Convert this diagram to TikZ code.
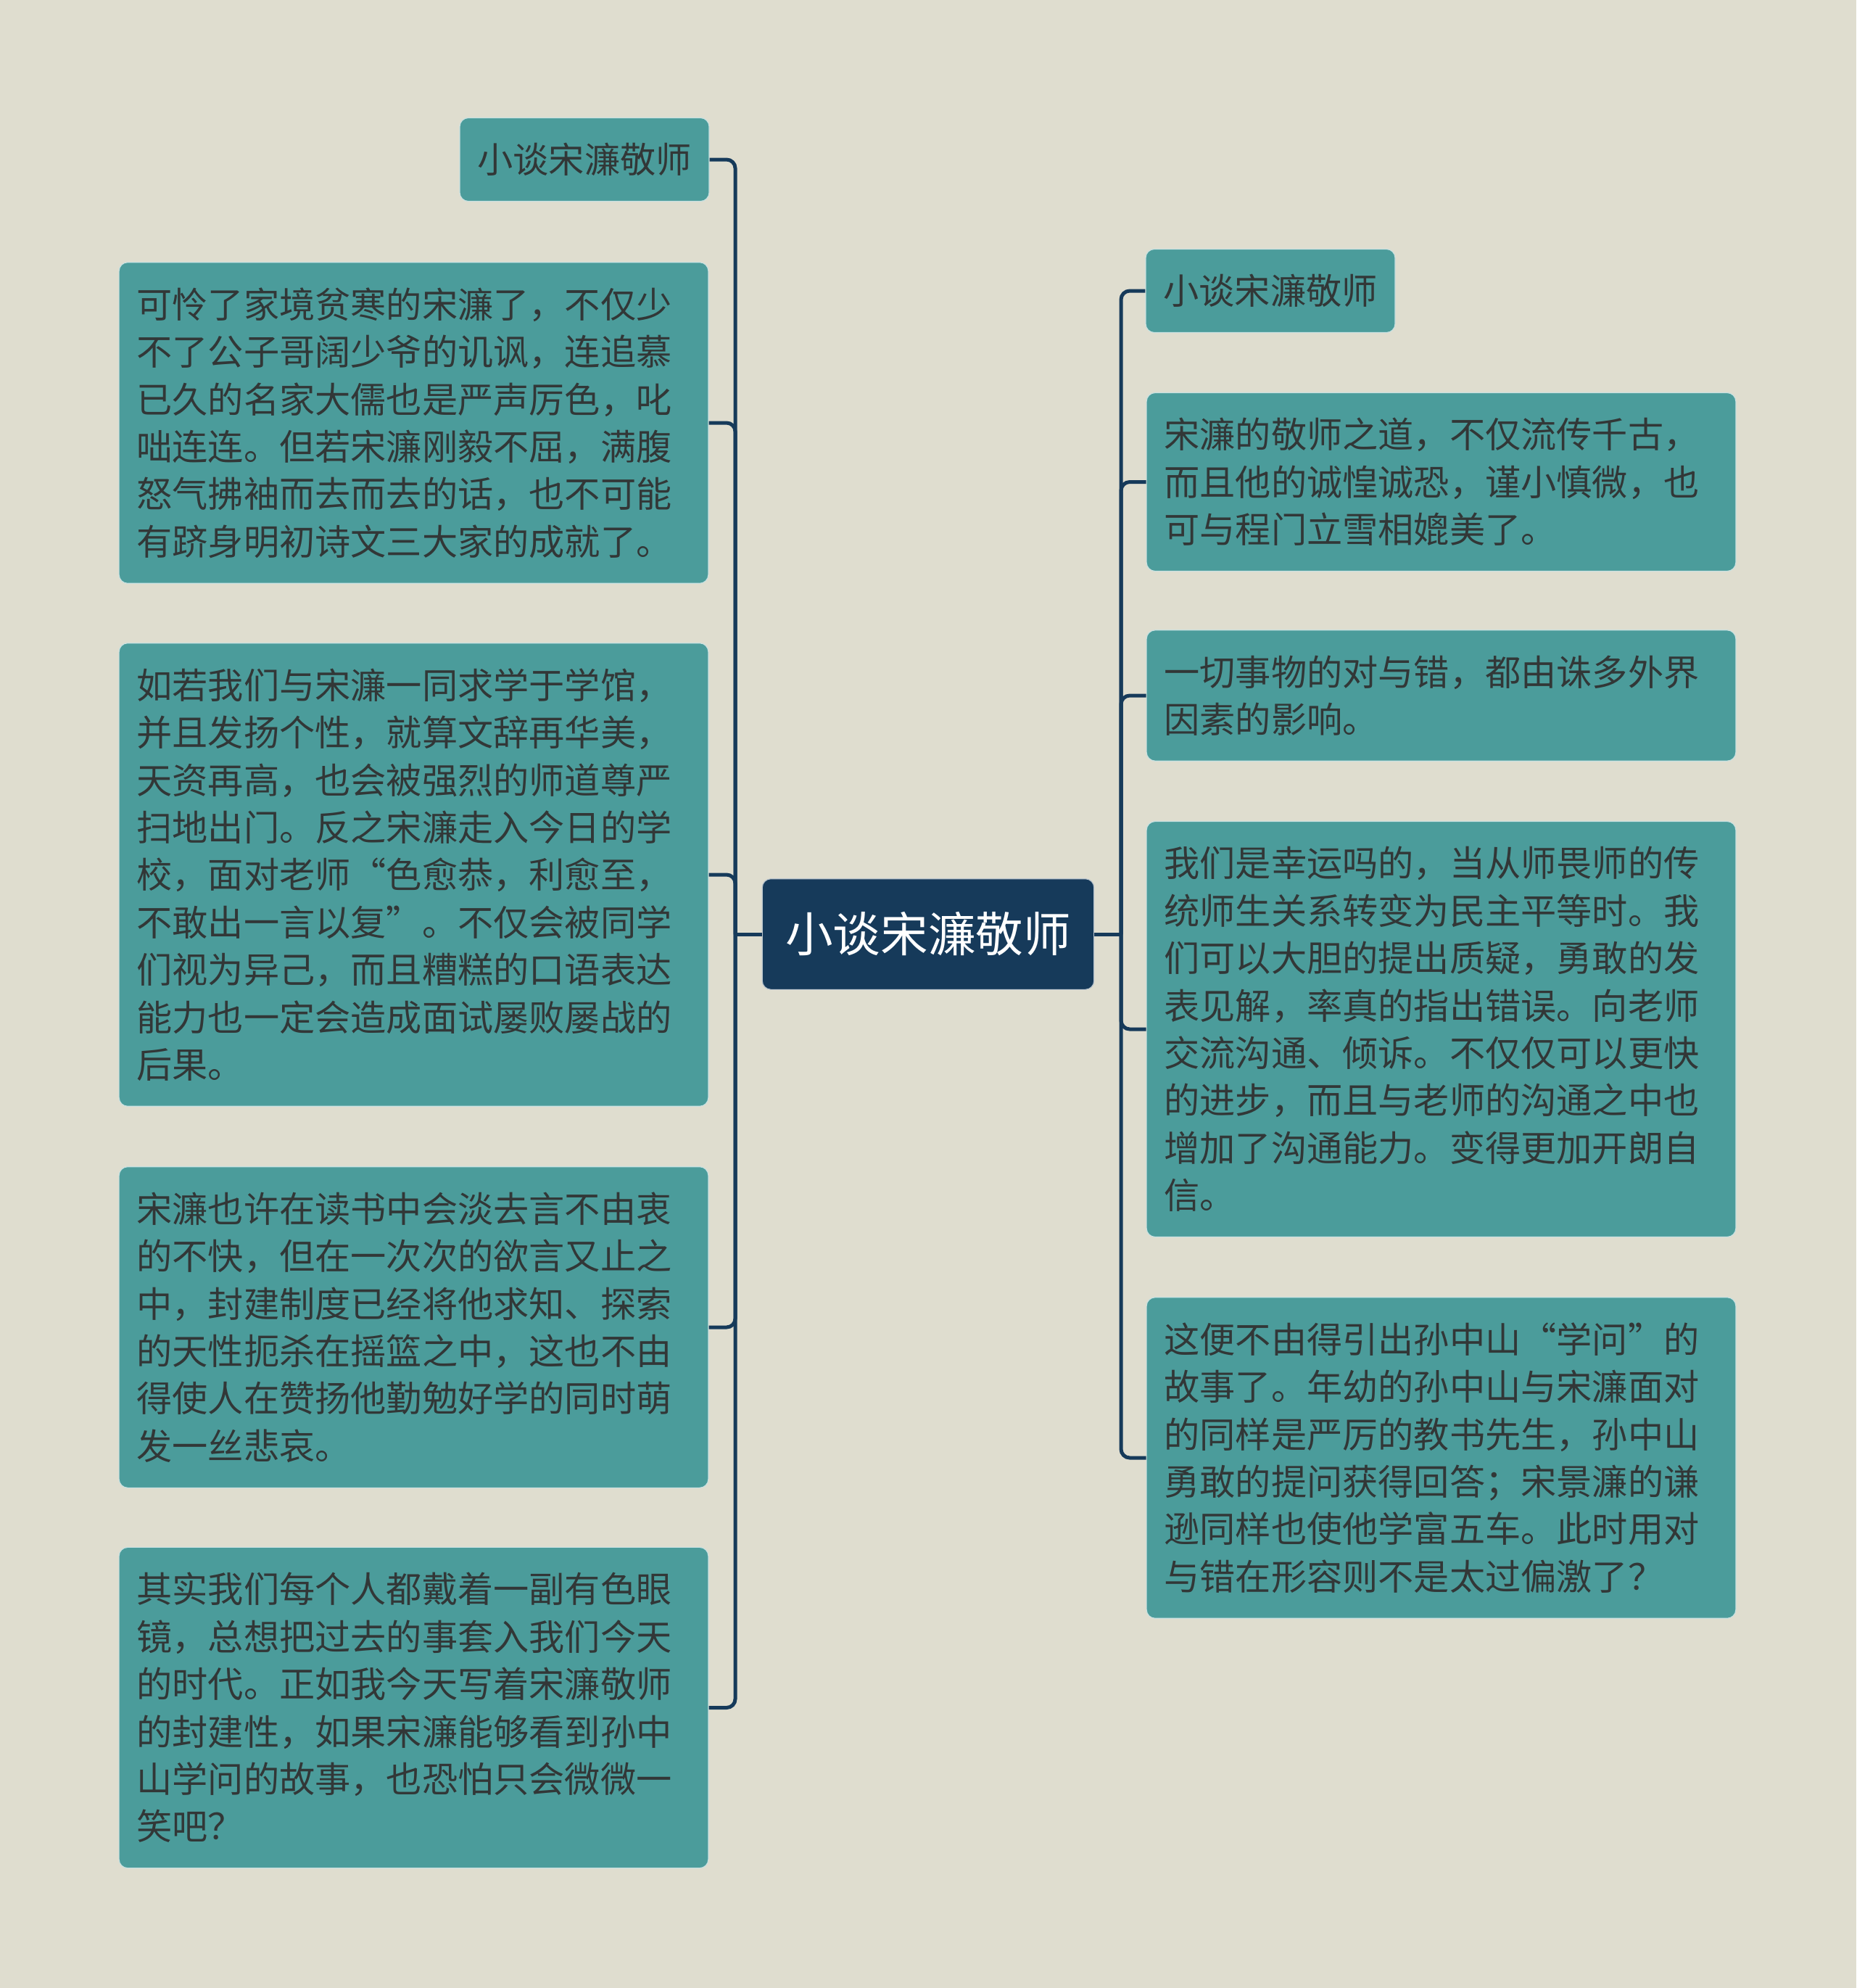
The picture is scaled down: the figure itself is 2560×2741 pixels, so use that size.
\documentclass[tikz,border=0pt]{standalone}
\usepackage{fontspec}
\newfontfamily\cjk{Noto Sans CJK SC}
\definecolor{paper}{HTML}{DFDDCF}
\definecolor{tealbox}{HTML}{4B9C9B}
\definecolor{navy}{HTML}{163A5A}
\definecolor{ink}{HTML}{323737}

\begin{document}
\begin{tikzpicture}[x=0.25pt, y=-0.25pt,
    topic/.style={rounded corners=3pt, fill=tealbox, draw=white!70!tealbox, line width=0.3pt,
        text=ink, font=\cjk\fontsize{12.3}{16.35}\selectfont, inner xsep=6.1pt, inner ysep=8.7pt},
    leaf/.style={topic, text width=191pt, align=left},
    mainbox/.style={rounded corners=3pt, fill=navy, draw=white!70!navy, line width=0.3pt,
        text=white, font=\cjk\fontsize{16.4}{20}\selectfont, inner xsep=8pt, inner ysep=11.5pt},
    branch/.style={navy, line width=1.25pt, rounded corners=3pt}]

    % Page and background
    \fill[paper] (0,0) rectangle (2560,2741);
    \useasboundingbox (0,0) rectangle (2560,2741);

    % Centre
    \node[mainbox] (root) at (1280,1288) {小谈宋濂敬师};
    \coordinate (lj) at (1014,1288); % left trunk
    \coordinate (rj) at (1546,1288); % right trunk

    % Left side
    \node[topic] (lt) at (806,220) {小谈宋濂敬师};
    \node[leaf] (l1) at (570.5,583) {可怜了家境贫寒的宋濂了，不仅少\\不了公子哥阔少爷的讥讽，连追慕\\已久的名家大儒也是严声厉色，叱\\咄连连。但若宋濂刚毅不屈，满腹\\怒气拂袖而去而去的话，也不可能\\有跻身明初诗文三大家的成就了。};
    \node[leaf] (l2) at (570.5,1206) {如若我们与宋濂一同求学于学馆，\\并且发扬个性，就算文辞再华美，\\天资再高，也会被强烈的师道尊严\\扫地出门。反之宋濂走入今日的学\\校，面对老师“色愈恭，利愈至，\\不敢出一言以复”。不仅会被同学\\们视为异己，而且糟糕的口语表达\\能力也一定会造成面试屡败屡战的\\后果。};
    \node[leaf] (l3) at (570.5,1830) {宋濂也许在读书中会淡去言不由衷\\的不快，但在一次次的欲言又止之\\中，封建制度已经将他求知、探索\\的天性扼杀在摇篮之中，这也不由\\得使人在赞扬他勤勉好学的同时萌\\发一丝悲哀。};
    \node[leaf] (l4) at (570.5,2354.5) {其实我们每个人都戴着一副有色眼\\镜，总想把过去的事套入我们今天\\的时代。正如我今天写着宋濂敬师\\的封建性，如果宋濂能够看到孙中\\山学问的故事，也恐怕只会微微一\\笑吧？};

    % Right side
    \node[topic] (rt) at (1752,401) {小谈宋濂敬师};
    \node[leaf] (r1) at (1987.5,664.5) {宋濂的敬师之道，不仅流传千古，\\而且他的诚惶诚恐，谨小慎微，也\\可与程门立雪相媲美了。};
    \node[leaf] (r2) at (1987.5,959) {一切事物的对与错，都由诛多外界\\因素的影响。};
    \node[leaf] (r3) at (1987.5,1419) {我们是幸运吗的，当从师畏师的传\\统师生关系转变为民主平等时。我\\们可以大胆的提出质疑，勇敢的发\\表见解，率真的指出错误。向老师\\交流沟通、倾诉。不仅仅可以更快\\的进步，而且与老师的沟通之中也\\增加了沟通能力。变得更加开朗自\\信。};
    \node[leaf] (r4) at (1987.5,2010) {这便不由得引出孙中山“学问”的\\故事了。年幼的孙中山与宋濂面对\\的同样是严厉的教书先生，孙中山\\勇敢的提问获得回答；宋景濂的谦\\逊同样也使他学富五车。此时用对\\与错在形容则不是太过偏激了？};

    % Connectors
    \draw[branch] (root.west) -- (lj);
    \draw[branch] (root.east) -- (rj);
    \foreach \n in {lt,l1,l2,l3,l4} \draw[branch] (lj) |- (\n.east);
    \foreach \n in {rt,r1,r2,r3,r4} \draw[branch] (rj) |- (\n.west);
\end{tikzpicture}
\end{document}
